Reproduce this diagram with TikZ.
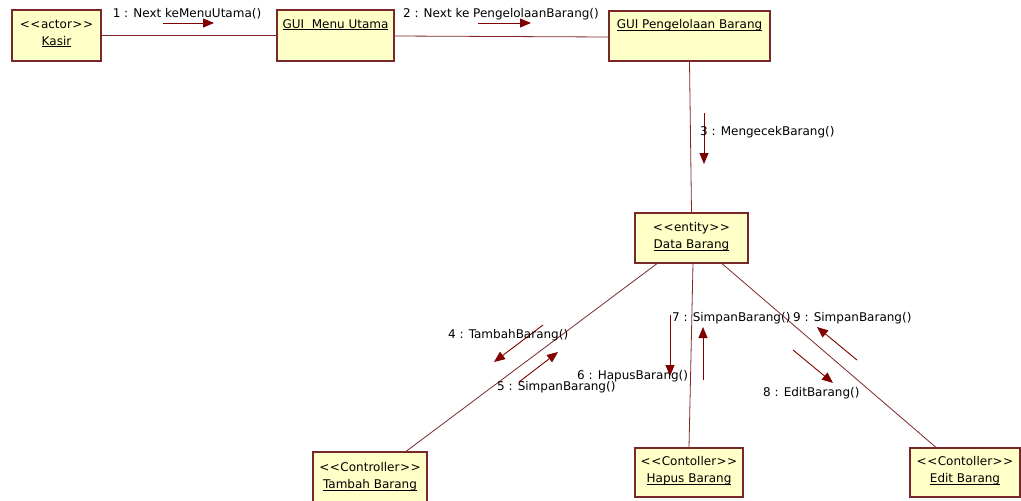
\documentclass[tikz,border=0pt]{standalone}
\usepackage{fontspec}
\newfontfamily\umlfont{DejaVu Sans}
\usetikzlibrary{arrows.meta}
\definecolor{boxfill}{RGB}{255,255,200}
\definecolor{boxline}{RGB}{120,40,40}
\definecolor{linkc}{RGB}{128,40,40}
\definecolor{msgc}{RGB}{128,0,0}
\newcommand\stL{<\kern0.5pt<\kern0.5pt}
\newcommand\stR{\kern0.5pt>\kern0.5pt>}
\newcommand\undl[1]{\setbox0\hbox{#1}\rlap{\rule[-1.6pt]{\wd0}{0.7pt}}\box0}
\begin{document}
\begin{tikzpicture}[x=1pt,y=-1pt,
  font=\umlfont\fontsize{12}{17}\selectfont,
  obj/.style={draw=boxline, fill=boxfill, line width=1.2pt, inner sep=0pt},
  objtxt/.style={anchor=north, align=center, inner sep=0pt},
  link/.style={draw=linkc, line width=0.8pt},
  msg/.style={draw=msgc, line width=0.9pt, -{Triangle[length=11pt,width=9pt]}},
  lbl/.style={inner sep=0pt}]
\fill[white] (0,0) rectangle (1021,501);
\useasboundingbox (0,0) rectangle (1021,501);

% object boxes
\node[obj, minimum width=89pt, minimum height=51pt] (kasir) at (56.5,35.5) {};
\node[objtxt] (kasirT) at ([yshift=-10pt]kasir.north) {\stL actor\stR\\\undl{Kasir}};
\node[obj, minimum width=117pt, minimum height=51pt] (menu) at (335.5,35.5) {};
\node[objtxt] (menuT) at ([yshift=-10pt]menu.north) {\undl{GUI\ \ Menu Utama}};
\node[obj, minimum width=161pt, minimum height=50pt] (peng) at (689.5,36) {};
\node[objtxt] (pengT) at ([yshift=-9pt]peng.north) {\undl{GUI Pengelolaan Barang}};
\node[obj, minimum width=113pt, minimum height=50pt] (data) at (691.5,238) {};
\node[objtxt] (dataT) at ([yshift=-10pt]data.north) {\stL entity\stR\\\undl{Data Barang}};
\node[obj, minimum width=114pt, minimum height=54pt] (tambah) at (370,479) {};
\node[objtxt] (tambahT) at ([yshift=-11pt]tambah.north) {\stL Controller\stR\\\undl{Tambah Barang}};
\node[obj, minimum width=108pt, minimum height=49pt] (hapus) at (689,472.5) {};
\node[objtxt] (hapusT) at ([yshift=-9pt]hapus.north) {\stL Contoller\stR\\\undl{Hapus Barang}};
\node[obj, minimum width=110pt, minimum height=49pt] (edit) at (965,472.5) {};
\node[objtxt] (editT) at ([yshift=-9pt]edit.north) {\stL Contoller\stR\\\undl{Edit Barang}};

% links
\draw[link] (kasir.east) -- (menu.west);
\draw[link] ([yshift=-0.5pt]menu.east) -- ([yshift=-1pt]peng.west);
\draw[link] (peng.south) -- (data.north);
\draw[link] ([xshift=-34.5pt]data.south) -- ([xshift=36pt]tambah.north);
\draw[link] ([xshift=1.5pt]data.south) -- (hapus.north);
\draw[link] ([xshift=30.5pt]data.south) -- ([xshift=-29pt]edit.north);

% message arrows
\coordinate (m1a) at (163,23); \coordinate (m1b) at (214,23);
\coordinate (m2a) at (478,23); \coordinate (m2b) at (531,23);
\coordinate (m3a) at (704,113); \coordinate (m3b) at (704,164);
\coordinate (m4a) at (543,325); \coordinate (m4b) at (494,362);
\coordinate (m5a) at (519,382); \coordinate (m5b) at (558,352);
\coordinate (m6a) at (670,315); \coordinate (m6b) at (670,376);
\coordinate (m7a) at (703,380); \coordinate (m7b) at (703,327);
\coordinate (m8a) at (793,350); \coordinate (m8b) at (833,383);
\coordinate (m9a) at (857,360); \coordinate (m9b) at (817,327);
\foreach \i in {1,...,9} {\draw[msg] (m\i a) -- (m\i b);}

% message labels
\node[lbl] (l1) at (187,14) {1 : Next keMenuUtama()};
\node[lbl] (l2) at (501,14) {2 : Next ke PengelolaanBarang()};
\node[lbl, anchor=west] (l3) at (700,132) {3 : MengecekBarang()};
\node[lbl, anchor=west] (l4) at (448,335) {4 : TambahBarang()};
\node[lbl, anchor=west] (l5) at (497,387) {5 : SimpanBarang()};
\node[lbl, anchor=west] (l6) at (577,376) {6 : HapusBarang()};
\node[lbl, anchor=west] (l7) at (672,318) {7 : SimpanBarang()};
\node[lbl, anchor=west] (l9) at (793,318) {9 : SimpanBarang()};
\node[lbl, anchor=west] (l8) at (763,393) {8 : EditBarang()};
\end{tikzpicture}
\end{document}
